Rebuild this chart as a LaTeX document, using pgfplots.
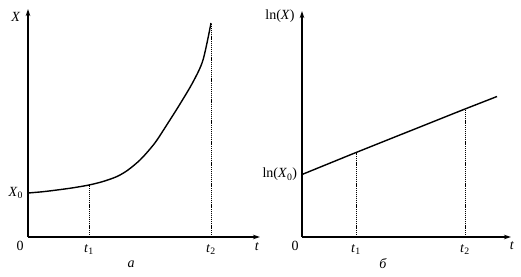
\documentclass[border=0pt]{standalone}
\usepackage{fontspec}
\setmainfont{Liberation Serif}
\usepackage{pgfplots}
\pgfplotsset{compat=1.18}
\usetikzlibrary{arrows.meta}
\pgfplotsset{myax/.style={
  scale only axis, x=1pt, y=1pt, xmin=0, ymin=0,
  axis lines=left,
  axis line style={line width=1.2pt, -{Stealth[length=7pt,width=4.5pt]}},
  major tick length=0pt, tick style={draw=none},
  clip=false,
  tick label style={font=\fontsize{14}{16}\selectfont},
  xticklabel style={yshift=-3pt},
  anchor=south west,
}}
\begin{document}
\fontsize{14}{16}\selectfont
\begin{tikzpicture}
\useasboundingbox (0,0) rectangle (521pt,276pt);
\begin{axis}[myax, at={(28pt,39pt)}, xmax=232, ymax=228,
  xtick={61,183}, xticklabels={\textit{t}\textsubscript{1},\textit{t}\textsubscript{2}},
  ytick={44}, yticklabels={\textit{X}\textsubscript{0}}]
\addplot[black, line width=1.4pt, smooth] coordinates {
(0,44) (15,45.3) (29,47) (45,49.2) (61,52) (75,55.5) (89,60.5) (100,67) (112,77) (122,88) (129,97) (140,114) (152,133) (165,155) (175,177) (183,214)};
\addplot[black, line width=0.8pt, dash pattern=on 1.2pt off 0.9pt] coordinates {(61,0) (61,52)};
\addplot[black, line width=0.8pt, dash pattern=on 1.2pt off 0.9pt] coordinates {(183,0) (183,214)};
\node at (axis cs:-8,-9) {0};
\node at (axis cs:229,-10) {\textit{t}};
\node at (axis cs:-12,220) {\textit{X}};
\node at (axis cs:103,-27) {\textit{a}};
\end{axis}
\begin{axis}[myax, at={(302pt,39pt)}, xmax=209, ymax=226,
  xtick={54,163}, xticklabels={\textit{t}\textsubscript{1},\textit{t}\textsubscript{2}},
  ytick={62.5}, yticklabels={ln(\textit{X}\textsubscript{0})}]
\addplot[black, line width=1.4pt] coordinates {(0,62.5) (54,84.5) (163,128) (195,140.5)};
\addplot[black, line width=0.8pt, dash pattern=on 1.2pt off 0.9pt] coordinates {(54,0) (54,84.5)};
\addplot[black, line width=0.8pt, dash pattern=on 1.2pt off 0.9pt] coordinates {(163,0) (163,128)};
\node at (axis cs:-7,-9) {0};
\node at (axis cs:210,-9) {\textit{t}};
\node at (axis cs:-22,221) {ln(\textit{X})};
\node at (axis cs:81,-27) {\textit{б}};
\end{axis}
\end{tikzpicture}
\end{document}
